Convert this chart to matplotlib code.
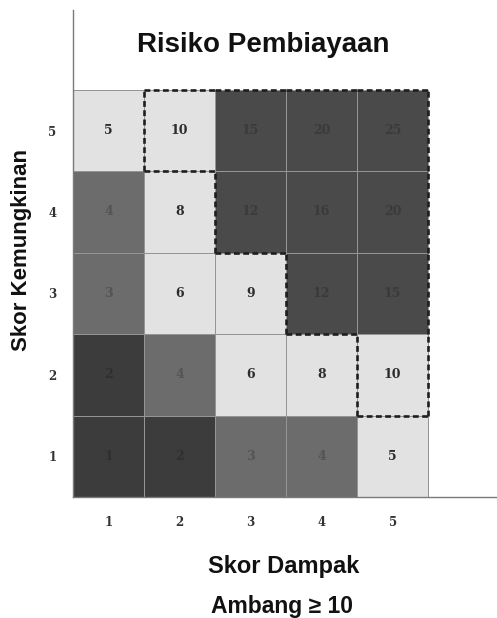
import matplotlib
matplotlib.use("Agg")
import matplotlib.pyplot as plt
import numpy as np
from matplotlib.colors import ListedColormap, BoundaryNorm, to_rgb

# Data
skor_dampak = [1, 2, 3, 4, 5]
skor_kemungkinan = [1, 2, 3, 4, 5]
# skor per sel, baris = kemungkinan 1..5, kolom = dampak 1..5
skor = np.array([
    [1, 2, 3, 4, 5],
    [2, 4, 6, 8, 10],
    [3, 6, 9, 12, 15],
    [4, 8, 12, 16, 20],
    [5, 10, 15, 20, 25],
])
ambang = 10

# Gray levels (scanned look)
warna = ListedColormap(["#3c3c3c", "#6c6c6c", "#e2e2e2", "#4a4a4a"])
batas = BoundaryNorm([0, 2.5, 4.5, 11, 30], warna.N)

fig = plt.figure(figsize=(4.97, 6.18), dpi=100)
ax = fig.add_axes([73/497, 1-497/618, 1-73/497, 487/618])

xe = np.arange(len(skor_dampak)+1) + 0.5
ye = np.arange(len(skor_kemungkinan)+1) + 0.5
ax.pcolormesh(xe, ye, skor, cmap=warna, norm=batas,
              edgecolors="#959595", linewidth=0.6)

for i, k in enumerate(skor_kemungkinan):
    for j, d in enumerate(skor_dampak):
        bg = np.array(to_rgb(warna(batas(skor[i, j]))))
        if bg.mean() < 0.5:
            tc = bg * 0.78
        else:
            tc = "#2c2c2c"
        ax.text(d, k, str(skor[i, j]), ha="center", va="center",
                fontsize=9, fontweight="bold", family="DejaVu Serif",
                color=tc)

# dashed outline around cells >= ambang
mask = skor >= ambang
n_r, n_c = mask.shape
gaya = dict(color="#1e1e1e", lw=1.9, linestyle=(0, (2.2, 1.3)), zorder=5,
            solid_capstyle="butt")
for i in range(n_r):
    for j in range(n_c):
        if not mask[i, j]:
            continue
        x0, x1 = skor_dampak[j]-0.5, skor_dampak[j]+0.5
        y0, y1 = skor_kemungkinan[i]-0.5, skor_kemungkinan[i]+0.5
        if i == 0 or not mask[i-1, j]:
            ax.plot([x0, x1], [y0, y0], **gaya)
        if i == n_r-1 or not mask[i+1, j]:
            ax.plot([x0, x1], [y1, y1], **gaya)
        if j == 0 or not mask[i, j-1]:
            ax.plot([x0, x0], [y0, y1], **gaya)
        if j == n_c-1 or not mask[i, j+1]:
            ax.plot([x1, x1], [y0, y1], **gaya)

ax.set_xlim(0.5, 6.47)
ax.set_ylim(0.5, 6.48)
ax.set_xticks(skor_dampak)
ax.set_yticks(skor_kemungkinan)
ax.tick_params(length=0, labelsize=8.5, colors="#333333")
ax.tick_params(axis="x", pad=14)
ax.tick_params(axis="y", pad=12)
for lab in ax.get_xticklabels() + ax.get_yticklabels():
    lab.set_fontweight("bold")
    lab.set_family("DejaVu Serif")
for s in ["top", "right"]:
    ax.spines[s].set_visible(False)
for s in ["left", "bottom"]:
    ax.spines[s].set_color("#7a7a7a")
    ax.spines[s].set_linewidth(1.0)

fig.text(263/497, 1-45/618, "Risiko Pembiayaan", ha="center", va="center",
         fontsize=20, fontweight="bold", family="Liberation Sans", color="#111111")
fig.text(284/497, 1-567/618, "Skor Dampak", ha="center", va="center",
         fontsize=17, fontweight="bold", family="Liberation Sans", color="#111111")
fig.text(282/497, 1-607/618, "Ambang \u2265 10", ha="center", va="center",
         fontsize=16.5, fontweight="bold", family="Liberation Sans", color="#111111")
fig.text(22/497, 1-250/618, "Skor Kemungkinan", ha="center", va="center",
         rotation=90, fontsize=16, fontweight="bold", family="Liberation Sans",
         color="#111111")

plt.savefig("out.png", dpi=100)
